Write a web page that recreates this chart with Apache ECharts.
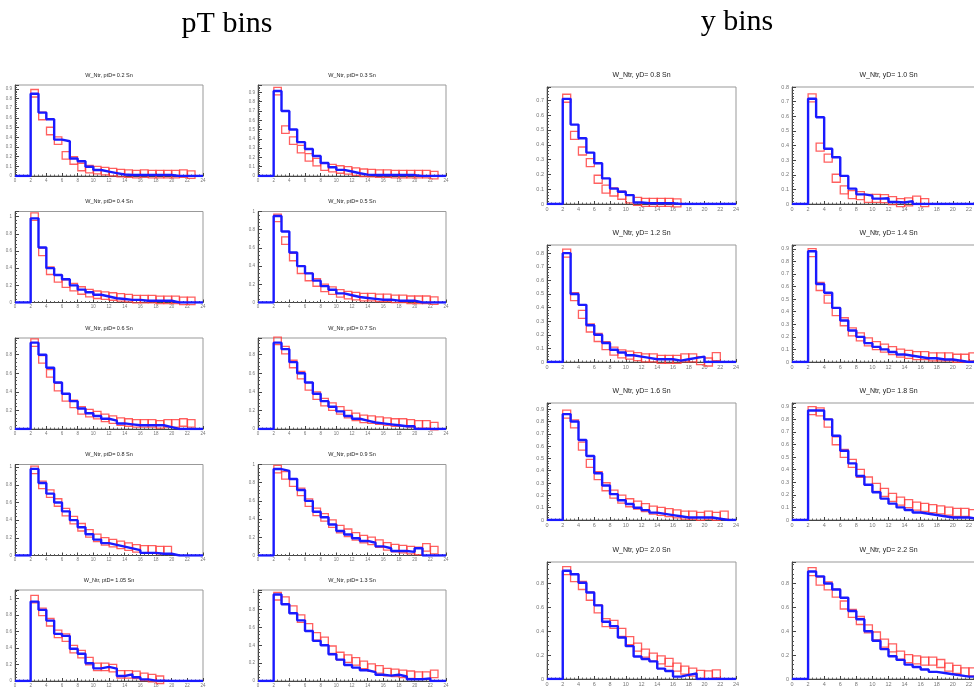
<!DOCTYPE html>
<html>
<head>
<meta charset="utf-8">
<script src="https://cdn.jsdelivr.net/npm/echarts@6/dist/echarts.min.js"></script>
<style>
html, body { margin: 0; padding: 0; background: #fff; }
#chart { width: 974px; height: 688px; }
</style>
</head>
<body>
<div id="chart"></div>
<script>
// bin contents: blue = histogram, first bin is [2,3]
// red = open squares at bin centres, first one at 2.5
const pt02Blue = [0.85, 0.655, 0.586, 0.376, 0.359, 0.18, 0.152, 0.095, 0.062, 0.045, 0.03, 0.015, 0.01, 0.01, 0.01, 0.01, 0.01, 0.01]
const pt02Red = [0.855, 0.62, 0.465, 0.365, 0.214, 0.16, 0.093, 0.07, 0.06, 0.05, 0.04, 0.03, 0.025, 0.02, 0.025, 0.02, 0.02, 0.02, 0.02, 0.025, 0.015]
const pt03Blue = [0.915, 0.70, 0.50, 0.365, 0.29, 0.215, 0.14, 0.095, 0.066, 0.048, 0.03, 0.015, 0.01, 0.01, 0.01, 0.01, 0.01, 0.01]
const pt03Red = [0.915, 0.50, 0.38, 0.29, 0.20, 0.15, 0.10, 0.085, 0.07, 0.06, 0.048, 0.035, 0.03, 0.025, 0.025, 0.02, 0.02, 0.02, 0.02, 0.02, 0.01]
const pt04Blue = [0.98, 0.64, 0.40, 0.32, 0.27, 0.2, 0.15, 0.12, 0.09, 0.07, 0.05, 0.04, 0.03, 0.03, 0.02, 0.02, 0.02, 0.02]
const pt04Red = [1.0, 0.59, 0.37, 0.28, 0.22, 0.18, 0.14, 0.11, 0.09, 0.08, 0.07, 0.06, 0.05, 0.04, 0.04, 0.04, 0.03, 0.03, 0.03, 0.02, 0.02]
const pt05Blue = [0.95, 0.78, 0.55, 0.4, 0.32, 0.24, 0.18, 0.14, 0.1, 0.08, 0.06, 0.05, 0.04, 0.03, 0.03, 0.02, 0.02, 0.02]
const pt05Red = [0.93, 0.68, 0.5, 0.36, 0.28, 0.22, 0.16, 0.13, 0.1, 0.08, 0.07, 0.06, 0.06, 0.05, 0.05, 0.04, 0.04, 0.03, 0.03, 0.03, 0.02]
const pt06Blue = [0.93, 0.8, 0.66, 0.5, 0.38, 0.3, 0.22, 0.17, 0.14, 0.11, 0.09, 0.06, 0.05, 0.04, 0.04, 0.04, 0.04, 0.02]
const pt06Red = [0.93, 0.75, 0.6, 0.45, 0.34, 0.27, 0.2, 0.17, 0.15, 0.12, 0.1, 0.08, 0.07, 0.06, 0.06, 0.06, 0.05, 0.06, 0.06, 0.07, 0.06]
const pt07Blue = [0.93, 0.86, 0.72, 0.6, 0.5, 0.38, 0.3, 0.24, 0.19, 0.14, 0.11, 0.09, 0.07, 0.06, 0.05, 0.04, 0.03, 0.03]
const pt07Red = [0.95, 0.85, 0.7, 0.58, 0.46, 0.36, 0.29, 0.24, 0.2, 0.16, 0.13, 0.11, 0.1, 0.09, 0.08, 0.07, 0.07, 0.06, 0.05, 0.05, 0.03]
const pt08Blue = [0.98, 0.82, 0.7, 0.6, 0.5, 0.4, 0.32, 0.24, 0.18, 0.14, 0.12, 0.1, 0.08, 0.06, 0.03, 0.03, 0.02, 0.02]
const pt08Red = [0.97, 0.8, 0.7, 0.6, 0.49, 0.4, 0.32, 0.25, 0.2, 0.16, 0.14, 0.12, 0.1, 0.08, 0.07, 0.07, 0.06, 0.06]
const pt09Blue = [0.95, 0.93, 0.84, 0.72, 0.6, 0.48, 0.42, 0.34, 0.27, 0.23, 0.19, 0.16, 0.14, 0.1, 0.08, 0.05, 0.05, 0.04, 0.08]
const pt09Red = [0.95, 0.88, 0.8, 0.7, 0.58, 0.48, 0.42, 0.35, 0.29, 0.25, 0.21, 0.18, 0.16, 0.13, 0.1, 0.08, 0.07, 0.06, 0.05, 0.09, 0.06]
const pt105Blue = [0.96, 0.86, 0.73, 0.57, 0.545, 0.39, 0.33, 0.215, 0.153, 0.17, 0.15, 0.06, 0.08, 0.045, 0.02, 0.005, 0.005]
const pt105Red = [0.99, 0.835, 0.71, 0.57, 0.525, 0.385, 0.325, 0.24, 0.17, 0.17, 0.155, 0.08, 0.08, 0.075, 0.05, 0.035, 0.015]
const pt13Blue = [0.97, 0.86, 0.76, 0.68, 0.56, 0.45, 0.4, 0.3, 0.24, 0.18, 0.15, 0.12, 0.1, 0.07, 0.06, 0.07, 0.05, 0.02, 0.02, 0.03]
const pt13Red = [0.95, 0.9, 0.8, 0.7, 0.6, 0.5, 0.45, 0.35, 0.28, 0.25, 0.22, 0.18, 0.15, 0.13, 0.1, 0.09, 0.08, 0.07, 0.06, 0.06, 0.08]

const y08Blue = [0.71, 0.536, 0.444, 0.347, 0.275, 0.173, 0.104, 0.083, 0.06, 0.01, 0.005, 0.005, 0.005, 0.005]
const y08Red = [0.714, 0.464, 0.358, 0.28, 0.167, 0.101, 0.081, 0.059, 0.034, 0.018, 0.011, 0.011, 0.011, 0.011, 0.007]
const y10Blue = [0.72, 0.593, 0.378, 0.32, 0.192, 0.105, 0.066, 0.057, 0.037, 0.039, 0.014, 0.01, 0.02]
const y10Red = [0.725, 0.389, 0.313, 0.176, 0.096, 0.064, 0.057, 0.039, 0.039, 0.037, 0.023, 0.009, 0.014, 0.027, 0.009]
const y12Blue = [0.8, 0.5, 0.42, 0.27, 0.2, 0.14, 0.09, 0.07, 0.05, 0.04, 0.03, 0.02, 0.02, 0.02, 0.01, 0.02, 0.03, 0.04]
const y12Red = [0.8, 0.48, 0.35, 0.25, 0.18, 0.12, 0.08, 0.06, 0.05, 0.04, 0.03, 0.03, 0.02, 0.02, 0.02, 0.03, 0.03, 0.01, 0.0, 0.04]
const y14Blue = [0.88, 0.62, 0.55, 0.43, 0.33, 0.25, 0.2, 0.15, 0.12, 0.1, 0.08, 0.06, 0.05, 0.04, 0.03, 0.03, 0.02, 0.02, 0.01]
const y14Red = [0.87, 0.6, 0.5, 0.4, 0.32, 0.24, 0.2, 0.16, 0.13, 0.11, 0.09, 0.07, 0.06, 0.05, 0.05, 0.04, 0.04, 0.04, 0.03, 0.03, 0.04]
const y16Blue = [0.86, 0.8, 0.65, 0.52, 0.38, 0.28, 0.21, 0.16, 0.13, 0.1, 0.08, 0.06, 0.05, 0.04, 0.03, 0.02, 0.02, 0.02, 0.02, 0.01]
const y16Red = [0.86, 0.78, 0.6, 0.46, 0.36, 0.27, 0.21, 0.17, 0.14, 0.12, 0.1, 0.08, 0.07, 0.06, 0.05, 0.04, 0.04, 0.03, 0.04, 0.03, 0.04]
const y18Blue = [0.87, 0.87, 0.8, 0.67, 0.55, 0.45, 0.35, 0.28, 0.22, 0.17, 0.13, 0.1, 0.08, 0.06, 0.05, 0.04, 0.03, 0.02, 0.02, 0.02, 0.01]
const y18Red = [0.87, 0.86, 0.77, 0.63, 0.53, 0.45, 0.37, 0.31, 0.26, 0.22, 0.18, 0.15, 0.13, 0.11, 0.1, 0.09, 0.08, 0.07, 0.06, 0.06, 0.05, 0.05]
const y20Blue = [0.907, 0.878, 0.806, 0.725, 0.617, 0.48, 0.443, 0.348, 0.275, 0.188, 0.168, 0.148, 0.087, 0.067, 0.02, 0.035, 0.046]
const y20Red = [0.907, 0.849, 0.783, 0.693, 0.588, 0.472, 0.458, 0.391, 0.322, 0.267, 0.217, 0.183, 0.16, 0.139, 0.099, 0.075, 0.058, 0.038, 0.035, 0.043]
const y22Blue = [0.9, 0.86, 0.8, 0.75, 0.68, 0.57, 0.5, 0.4, 0.32, 0.25, 0.19, 0.16, 0.12, 0.1, 0.08, 0.06, 0.05, 0.04, 0.03, 0.02, 0.02]
const y22Red = [0.9, 0.82, 0.78, 0.72, 0.62, 0.55, 0.49, 0.42, 0.36, 0.3, 0.26, 0.2, 0.17, 0.16, 0.15, 0.15, 0.13, 0.1, 0.08, 0.06, 0.06, 0.04]

const ptTitles = ['W_Ntr, ptD= 0.2 Sn', 'W_Ntr, ptD= 0.3 Sn', 'W_Ntr, ptD= 0.4 Sn', 'W_Ntr, ptD= 0.5 Sn', 'W_Ntr, ptD= 0.6 Sn',
  'W_Ntr, ptD= 0.7 Sn', 'W_Ntr, ptD= 0.8 Sn', 'W_Ntr, ptD= 0.9 Sn', 'W_Ntr, ptD= 1.05 Sn', 'W_Ntr, ptD= 1.3 Sn']
const yTitles = ['W_Ntr, yD= 0.8 Sn', 'W_Ntr, yD= 1.0 Sn', 'W_Ntr, yD= 1.2 Sn', 'W_Ntr, yD= 1.4 Sn',
  'W_Ntr, yD= 1.6 Sn', 'W_Ntr, yD= 1.8 Sn', 'W_Ntr, yD= 2.0 Sn', 'W_Ntr, yD= 2.2 Sn']
// y axis top and label step of each pad
const ptYMax = [0.94, 0.98, 1.06, 1.0, 0.98, 0.98, 1.03, 1.0, 1.1, 1.02]
const ptYStep = [0.1, 0.1, 0.2, 0.2, 0.2, 0.2, 0.2, 0.2, 0.2, 0.2]
const yYMax = [0.79, 0.8, 0.86, 0.93, 0.95, 0.93, 0.98, 0.98]
const yYStep = [0.1, 0.1, 0.1, 0.1, 0.1, 0.1, 0.2, 0.2]

const ptBlue = [pt02Blue, pt03Blue, pt04Blue, pt05Blue, pt06Blue, pt07Blue, pt08Blue, pt09Blue, pt105Blue, pt13Blue]
const ptRed = [pt02Red, pt03Red, pt04Red, pt05Red, pt06Red, pt07Red, pt08Red, pt09Red, pt105Red, pt13Red]
const yBlue = [y08Blue, y10Blue, y12Blue, y14Blue, y16Blue, y18Blue, y20Blue, y22Blue]
const yRed = [y08Red, y10Red, y12Red, y14Red, y16Red, y18Red, y20Red, y22Red]

// histogram -> step line points (bins 0..24, empty below 2)
function histPoints(vals) {
  let pts = [[0, 0], [1, 0]]
  for (let x = 2; x <= 24; x++) {
    let v = vals[x - 2]
    pts.push([x, v === undefined ? 0 : v])
  }
  return pts
}

let option = { animation: false, grid: [], xAxis: [], yAxis: [], series: [], graphic: [] }

function addPad(box, title, blue, red, ymax, ystep, small) {
  let k = option.grid.length
  let fs = small ? 4.5 : 5.5
  option.grid.push({
    left: box[0], top: box[1], width: box[2], height: box[3],
    show: true, borderColor: '#999', borderWidth: 1, outerBoundsMode: 'none', containLabel: false
  })
  option.xAxis.push({
    gridIndex: k, type: 'value', min: 0, max: 24, interval: 2,
    axisLine: { show: true, onZero: false, lineStyle: { color: '#444', width: 1 } },
    axisTick: { inside: true, length: 3, lineStyle: { color: '#444' } },
    minorTick: { show: true, splitNumber: 4, length: 1.5, lineStyle: { color: '#666' } },
    splitLine: { show: false },
    axisLabel: { fontSize: fs, color: '#777', margin: 2, fontFamily: 'Liberation Sans' }
  })
  option.yAxis.push({
    gridIndex: k, type: 'value', min: 0, max: ymax, interval: ystep,
    axisLine: { show: true, lineStyle: { color: '#444', width: 1 } },
    axisTick: { inside: true, length: 4, lineStyle: { color: '#444' } },
    minorTick: { show: true, splitNumber: 5, length: 2, lineStyle: { color: '#555' } },
    splitLine: { show: false },
    axisLabel: {
      fontSize: fs, color: '#777', margin: 3, fontFamily: 'Liberation Sans',
      formatter: function (v) {
        let q = v / ystep
        return Math.abs(q - Math.round(q)) < 1e-6 ? String(+v.toFixed(2)) : ''
      }
    }
  })
  option.series.push({
    type: 'scatter', xAxisIndex: k, yAxisIndex: k, z: 2,
    symbol: 'rect', symbolSize: small ? 7.5 : 8,
    data: red.map((v, i) => [2.5 + i, v]),
    itemStyle: { color: 'rgba(0,0,0,0)', borderColor: '#ff3838', borderWidth: 1.3 }
  })
  option.series.push({
    type: 'line', xAxisIndex: k, yAxisIndex: k, z: 3, step: 'end', symbol: 'none',
    data: histPoints(blue),
    lineStyle: { color: '#1a1aff', width: 2.4 }
  })
  option.graphic.push({
    type: 'text', x: box[0] + box[2] / 2, y: box[1] - (small ? 10 : 12),
    style: { text: title, font: (small ? 5.5 : 7) + 'px "Liberation Sans"', fill: '#222', align: 'center', verticalAlign: 'middle' }
  })
}

// left block: pT bins, 2 columns x 5 rows
const ptCols = [15, 258]
const ptRows = [85, 211.5, 338, 464.5, 590]
for (let i = 0; i < 10; i++) {
  addPad([ptCols[i % 2], ptRows[Math.floor(i / 2)], 188, 91], ptTitles[i], ptBlue[i], ptRed[i], ptYMax[i], ptYStep[i], true)
}
// right block: y bins, 2 columns x 4 rows (second column runs off the page)
const yCols = [547, 792]
const yRows = [87, 245, 403, 562]
for (let i = 0; i < 8; i++) {
  addPad([yCols[i % 2], yRows[Math.floor(i / 2)], i % 2 ? 193 : 189, 117], yTitles[i], yBlue[i], yRed[i], yYMax[i], yYStep[i], false)
}

option.graphic.push({ type: 'text', x: 227, y: 24, style: { text: 'pT bins', font: '30px "Liberation Serif"', fill: '#000', align: 'center', verticalAlign: 'middle' } })
option.graphic.push({ type: 'text', x: 737, y: 22, style: { text: 'y bins', font: '30px "Liberation Serif"', fill: '#000', align: 'center', verticalAlign: 'middle' } })

let myChart = echarts.init(document.getElementById('chart'))
myChart.setOption(option)
</script>
</body>
</html>
